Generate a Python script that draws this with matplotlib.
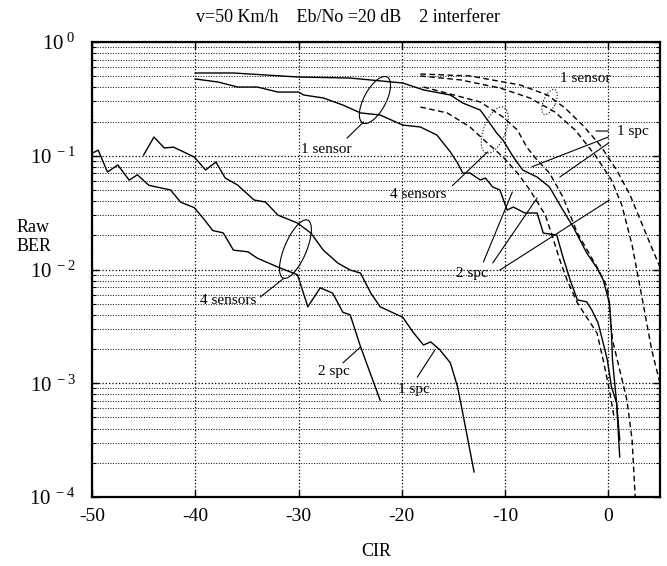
import matplotlib
matplotlib.use("Agg")
import matplotlib.pyplot as plt
from matplotlib.patches import Ellipse
from matplotlib.transforms import ScaledTranslation
from matplotlib.ticker import LogLocator, NullFormatter, NullLocator

plt.rcParams['font.family'] = ['Liberation Serif', 'DejaVu Serif']
plt.rcParams['mathtext.fontset'] = 'custom'
plt.rcParams['mathtext.rm'] = 'Liberation Serif'
plt.rcParams['mathtext.it'] = 'Liberation Serif:italic'
plt.rcParams['axes.unicode_minus'] = False

# ---------------- data (CIR in dB, raw BER) ----------------
# 4 sensors, 2 spc (solid, leftmost)
s4_2spc_x = [-50.0, -49.4, -48.5, -47.5, -46.4, -45.6, -44.5, -42.4, -41.4, -40.1, -39.2,
             -38.3, -37.3, -36.3, -34.9, -34.0, -32.0, -30.1, -29.1, -27.9, -26.7, -25.7,
             -25.0, -24.0, -22.1]
s4_2spc_y = [0.105, 0.112, 0.072, 0.083, 0.061, 0.068, 0.055, 0.050, 0.039, 0.035, 0.028,
             0.022, 0.021, 0.0148, 0.0143, 0.0126, 0.0105, 0.0090, 0.0047, 0.0069, 0.0062,
             0.0042, 0.0040, 0.0021, 0.00071]

# 4 sensors, 1 spc (solid)
s4_1spc_x = [-45.0, -44.0, -43.0, -42.1, -40.1, -39.0, -38.0, -37.1, -35.9, -34.3, -33.2,
             -32.0, -30.1, -28.8, -27.6, -26.2, -25.0, -24.0, -23.0, -22.1, -19.9, -18.9,
             -17.9, -17.2, -16.3, -15.3, -14.6, -14.1, -13.6, -13.0]
s4_1spc_y = [0.1016, 0.146, 0.117, 0.119, 0.0975, 0.075, 0.088, 0.0637, 0.0553, 0.0408,
             0.0392, 0.0301, 0.0256, 0.0209, 0.0148, 0.0114, 0.0099, 0.0093, 0.0062, 0.0047,
             0.0038, 0.0028, 0.00217, 0.00231, 0.00196, 0.00151, 0.00093, 0.000547,
             0.000317, 0.000166]

# 1 sensor, solid upper
s1_a_x = [-40.0, -36.3, -30.0, -25.0, -19.9, -17.9, -15.3, -14.1, -12.4, -11.7, -10.8, -10.2,
          -9.2, -8.3, -6.9, -5.7, -4.4, -3.4, -2.1, -1.1, -0.5, 0.1, 0.3, 0.4, 0.8, 1.1]
s1_a_y = [0.534, 0.534, 0.492, 0.482, 0.436, 0.379, 0.342, 0.291, 0.252, 0.206, 0.158, 0.137,
          0.0975, 0.075, 0.065, 0.0531, 0.0333, 0.0236, 0.0140, 0.0103, 0.0081, 0.0051,
          0.0028, 0.0016, 0.00067, 0.000225]

# 1 sensor, solid lower
s1_b_x = [-40.0, -37.8, -35.9, -34.0, -32.0, -30.0, -29.5, -27.6, -25.7, -24.0, -22.1, -19.9,
          -18.2, -16.6, -15.3, -14.6, -14.1, -13.4, -12.4, -11.9, -11.2, -10.5, -9.8, -9.2,
          -8.1, -6.9, -6.3, -5.0, -4.4, -3.7, -3.0, -2.1, -1.6, -1.0, -0.5, -0.1, 0.3, 0.8, 1.1]
s1_b_y = [0.473, 0.445, 0.402, 0.402, 0.363, 0.363, 0.342, 0.322, 0.279, 0.238, 0.228, 0.186,
          0.179, 0.152, 0.108, 0.0863, 0.0705, 0.0705, 0.0612, 0.0637, 0.0531, 0.050, 0.0333,
          0.0354, 0.0314, 0.0314, 0.0209, 0.0201, 0.0129, 0.0081, 0.0054, 0.0052, 0.0044,
          0.0034, 0.00226, 0.0016, 0.00093, 0.00067, 0.000317]

# dashed curves
d1_x = [-18.2, -13.4, -8.5, -5.9, -4.2, -2.5, -0.8, 0.8, 2.1, 3.3, 4.3, 5.0]
d1_y = [0.523, 0.503, 0.418, 0.342, 0.263, 0.186, 0.124, 0.075, 0.0452, 0.0246, 0.0148, 0.0105]

d2_x = [-18.2, -14.3, -10.5, -7.6, -5.2, -3.2, -1.3, 0.3, 1.3, 2.3, 3.3, 4.2, 5.0]
d2_y = [0.503, 0.464, 0.394, 0.322, 0.243, 0.168, 0.1016, 0.0612, 0.0369, 0.0164, 0.0054,
        0.00196, 0.0010]

d3_x = [-17.9, -12.4, -10.2, -8.8, -7.9, -6.9, -5.7, -4.4, -3.0, -1.1, -0.1, 0.1, 0.4, 1.1,
        1.8, 2.3, 2.6]
d3_y = [0.402, 0.297, 0.219, 0.168, 0.119, 0.0918, 0.0705, 0.0434, 0.0209, 0.0105, 0.0070,
        0.0047, 0.0024, 0.00131, 0.00071, 0.000317, 0.0001]

d4_x = [-18.2, -15.6, -13.4, -11.7, -10.2, -8.8, -7.6, -6.1, -5.4, -4.7, -4.0, -3.0, -2.1,
        -1.1, -0.5, 0.1, 0.6]
d4_y = [0.268, 0.238, 0.179, 0.129, 0.0975, 0.0705, 0.050, 0.0301, 0.0193, 0.0121, 0.0081,
        0.0051, 0.0038, 0.00277, 0.0016, 0.00087, 0.000475]

x_ticks = [-50, -40, -30, -20, -10, 0]
x_ticklabels = ['-50', '-40', '-30', '-20', '-10', '0']
y_ticks = [1e-4, 1e-3, 1e-2, 1e-1, 1e0]
y_ticklabels = [r'$\mathregular{10^{\ -4}}$', r'$\mathregular{10^{\ -3}}$',
                r'$\mathregular{10^{\ -2}}$', r'$\mathregular{10^{\ -1}}$',
                r'$\mathregular{10^{\ 0}}$']

title_text = 'v=50 Km/h    Eb/No =20 dB    2 interferer'

# ---------------- figure ----------------
fig = plt.figure(figsize=(6.67, 5.66), dpi=100)
ax = fig.add_axes([0.1379, 0.1219, 0.8516, 0.8039])

solid = dict(color='black', lw=1.0, ls='-')
dashed = dict(color='black', lw=1.0, ls=(0, (4, 2.5)))
ax.plot(s4_2spc_x, s4_2spc_y, **solid)
ax.plot(s4_1spc_x, s4_1spc_y, **solid)
ax.plot(s1_a_x, s1_a_y, **solid)
ax.plot(s1_b_x, s1_b_y, **solid)
ax.plot(d1_x, d1_y, **dashed)
ax.plot(d2_x, d2_y, **dashed)
ax.plot(d3_x, d3_y, **dashed)
ax.plot(d4_x, d4_y, **dashed)

ax.set_yscale('log')
ax.set_xlim(-50, 5)
ax.set_ylim(1e-4, 1)
ax.set_xticks(x_ticks)
ax.set_xticklabels(x_ticklabels)
ax.xaxis.set_minor_locator(NullLocator())
ax.set_yticks(y_ticks)
ax.set_yticklabels(y_ticklabels)
ax.yaxis.set_minor_locator(LogLocator(base=10, subs=[2, 3, 4, 5, 6, 7, 8, 9]))
ax.yaxis.set_minor_formatter(NullFormatter())

ax.grid(True, which='major', axis='both', ls=':', color='black', lw=0.9)
ax.grid(True, which='minor', axis='y', ls=':', color='black', lw=0.7)
ax.tick_params(which='both', direction='in', top=True, right=True, colors='black')
ax.tick_params(which='major', length=5, width=1.0)
ax.tick_params(which='minor', length=3, width=0.8)
ax.tick_params(axis='x', labelsize=14, pad=8)
ax.tick_params(axis='y', labelsize=15, pad=12)
for sp in ax.spines.values():
    sp.set_linewidth(1.6)

fig.text(348 / 667, 1 - 18 / 566, title_text, ha='center', va='center', fontsize=13)
fig.text(376 / 667, 1 - 552 / 566, 'CIR', ha='center', va='center', fontsize=13)
fig.text(17 / 667, 1 - 237 / 566, 'Raw\nBER', ha='left', va='center', fontsize=13,
         linespacing=1.1)

# ---------------- annotations ----------------
fs = 11
ax.text(-29.8, 0.1146, '1 sensor', fontsize=fs, ha='left', va='center')
ax.text(-21.1, 0.0461, '4 sensors', fontsize=fs, ha='left', va='center')
ax.text(-4.7, 0.473, '1 sensor', fontsize=fs, ha='left', va='center')
ax.text(0.8, 0.165, '1 spc', fontsize=fs, ha='left', va='center')
ax.text(-14.8, 0.0092, '2 spc', fontsize=fs, ha='left', va='center')
ax.text(-28.1, 0.00126, '2 spc', fontsize=fs, ha='left', va='center')
ax.text(-20.4, 0.00089, '1 spc', fontsize=fs, ha='left', va='center')
ax.text(-39.5, 0.00529, '4 sensors', fontsize=fs, ha='left', va='center')

pointers = [
    ((-25.3, 0.143), (-23.7, 0.198)),
    ((-15.1, 0.0546), (-11.7, 0.108)),
    ((0.0, 0.146), (-7.4, 0.080)),
    ((0.0, 0.129), (-4.7, 0.065)),
    ((0.0, 0.165), (-1.2, 0.165)),
    ((-12.1, 0.01164), (-9.3, 0.048)),
    ((-11.2, 0.0114), (-6.9, 0.0425)),
    ((-10.5, 0.0099), (0.1, 0.0408)),
    ((-25.7, 0.00151), (-24.0, 0.00208)),
    ((-18.5, 0.00113), (-16.8, 0.00196)),
    ((-33.7, 0.00573), (-31.4, 0.0084)),
]
for start, end in pointers:
    ax.annotate('', xy=end, xytext=start,
                arrowprops=dict(arrowstyle='-', lw=0.8, color='black',
                                shrinkA=0, shrinkB=0))

# ellipses: (center x, center y, major inch, minor inch, angle, style)
ellipses = [
    (-22.6, 0.309, 0.52, 0.22, 62, '-'),
    (-5.7, 0.297, 0.27, 0.12, 66, ':'),
    (-11.0, 0.168, 0.49, 0.22, 69, ':'),
    (-30.3, 0.0151, 0.63, 0.22, 67, '-'),
]
for cx, cy, w, h, ang, st in ellipses:
    tr = fig.dpi_scale_trans + ScaledTranslation(cx, cy, ax.transData)
    e = Ellipse((0, 0), w, h, angle=ang, transform=tr, fill=False,
                edgecolor='black', lw=0.8, ls=st)
    ax.add_patch(e)

fig.savefig('out.png', dpi=100)
